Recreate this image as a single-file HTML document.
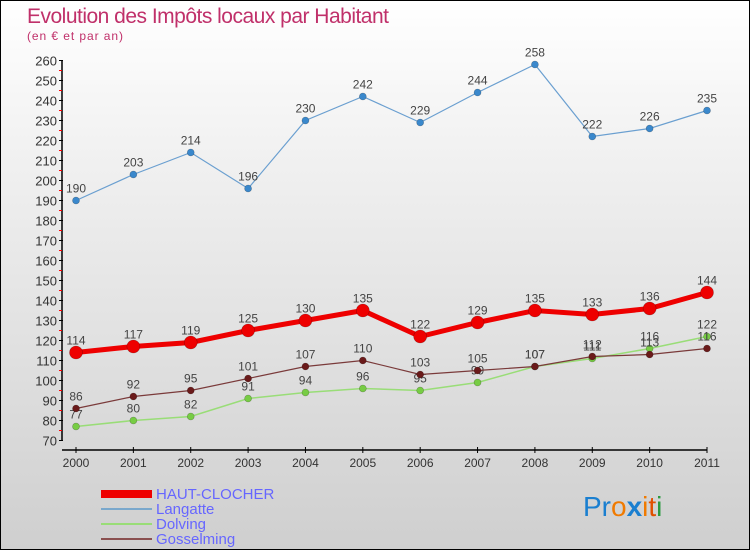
<!DOCTYPE html>
<html><head><meta charset="utf-8"><style>
body{margin:0;}
#c{width:748px;height:548px;border:1px solid #000;background:linear-gradient(#fff,#f0f0f0 30%,#cfcfcf);position:relative;font-family:"Liberation Sans",sans-serif;overflow:hidden}
</style></head><body>
<div id="c">
<svg id="s" width="748" height="548" style="position:absolute;left:0;top:0">
<text x="26" y="22" font-size="21" fill="#c0306a" font-weight="300" textLength="362">Evolution des Impôts locaux par Habitant</text>
<text x="26" y="39" font-size="12" fill="#c0306a" textLength="96">(en € et par an)</text>
<g id="axes"></g><g id="series"></g>
<g>
<rect x="100" y="489" width="51" height="8" fill="#e00"/>
<text x="155" y="498" font-size="15" fill="#6666ff">HAUT-CLOCHER</text>
<line x1="100" y1="508" x2="151" y2="508" stroke="#7aa8cc" stroke-width="2"/>
<text x="155" y="513" font-size="15" fill="#6666ff">Langatte</text>
<line x1="100" y1="523" x2="151" y2="523" stroke="#99dd77" stroke-width="2"/>
<text x="155" y="528" font-size="15" fill="#6666ff">Dolving</text>
<line x1="100" y1="538" x2="151" y2="538" stroke="#8a5050" stroke-width="2"/>
<text x="155" y="543" font-size="15" fill="#6666ff">Gosselming</text>
</g>
<text x="582" y="515" font-size="28"><tspan fill="#1a7fd0">Pr</tspan><tspan fill="#f07a00">o</tspan><tspan fill="#1a7fd0" font-weight="bold">x</tspan><tspan fill="#f07a00">i</tspan><tspan fill="#e05000">t</tspan><tspan fill="#2a9a40">i</tspan></text>
</svg>
</div>
<script>
const years=["2000","2001","2002","2003","2004","2005","2006","2007","2008","2009","2010","2011"];
const yTicks=[70,80,90,100,110,120,130,140,150,160,170,180,190,200,210,220,230,240,250,260];
const hautClocher=[114,117,119,125,130,135,122,129,135,133,136,144];
const langatte=[190,203,214,196,230,242,229,244,258,222,226,235];
const dolving=[77,80,82,91,94,96,95,99,107,111,116,122];
const gosselming=[86,92,95,101,107,110,103,105,107,112,113,116];
const NS="http://www.w3.org/2000/svg";
function X(i){return 75+i*(631/(years.length-1));}
function Y(v){return 439.5-(v-70)*2;}
function mk(t,a,p){const e=document.createElementNS(NS,t);for(const k in a)e.setAttribute(k,a[k]);p.appendChild(e);return e;}
const ax=document.getElementById('axes');
mk('line',{x1:61,y1:Y(260),x2:61,y2:Y(70),stroke:'#000','stroke-width':1.5},ax);
yTicks.forEach(v=>{
 mk('line',{x1:58,y1:Y(v),x2:62,y2:Y(v),stroke:'#000'},ax);
 if(v<260)mk('line',{x1:58,y1:Y(v+5),x2:61,y2:Y(v+5),stroke:'#f00'},ax);
 const t=mk('text',{x:56,y:Y(v)+5,'font-size':13,fill:'#333','text-anchor':'end'},ax);
 
 
 t.textContent=v;
});
mk('line',{x1:61,y1:449,x2:X(years.length-1),y2:449,stroke:'#000','stroke-width':1.5},ax);
years.forEach((y,i)=>{
 mk('line',{x1:X(i),y1:446,x2:X(i),y2:452,stroke:'#000'},ax);
 const t=mk('text',{x:X(i),y:466,'font-size':12,fill:'#333','text-anchor':'middle'},ax);
 
 
 t.textContent=y;
});
const sg=document.getElementById('series');
function draw(name,vals,color,w,r,ptColor){
 const g=mk('g',{},sg);
 
 
 mk('polyline',{points:vals.map((v,i)=>X(i)+','+Y(v)).join(' '),fill:'none',stroke:color,'stroke-width':w},g);
 vals.forEach((v,i)=>{
  const c=mk('circle',{cx:X(i),cy:Y(v),r:r,fill:ptColor,stroke:'rgba(0,0,0,0.3)','stroke-width':0.6},g);
  
  
  const t=mk('text',{x:X(i),y:Y(v)-8,'font-size':12,fill:'#444','text-anchor':'middle'},g);
  
  
  t.textContent=v;
 });
}
draw('langatte',langatte,'#6a9fd0',1.2,3.5,'#3a88cc');
draw('dolving',dolving,'#99dd77',1.5,3.5,'#77cc44');
draw('gosselming',gosselming,'#7a3a3a',1.2,3.5,'#6a1a1a');
draw('haut-clocher',hautClocher,'#ee0000',5,6.5,'#ee0000');
</script>
</body></html>
